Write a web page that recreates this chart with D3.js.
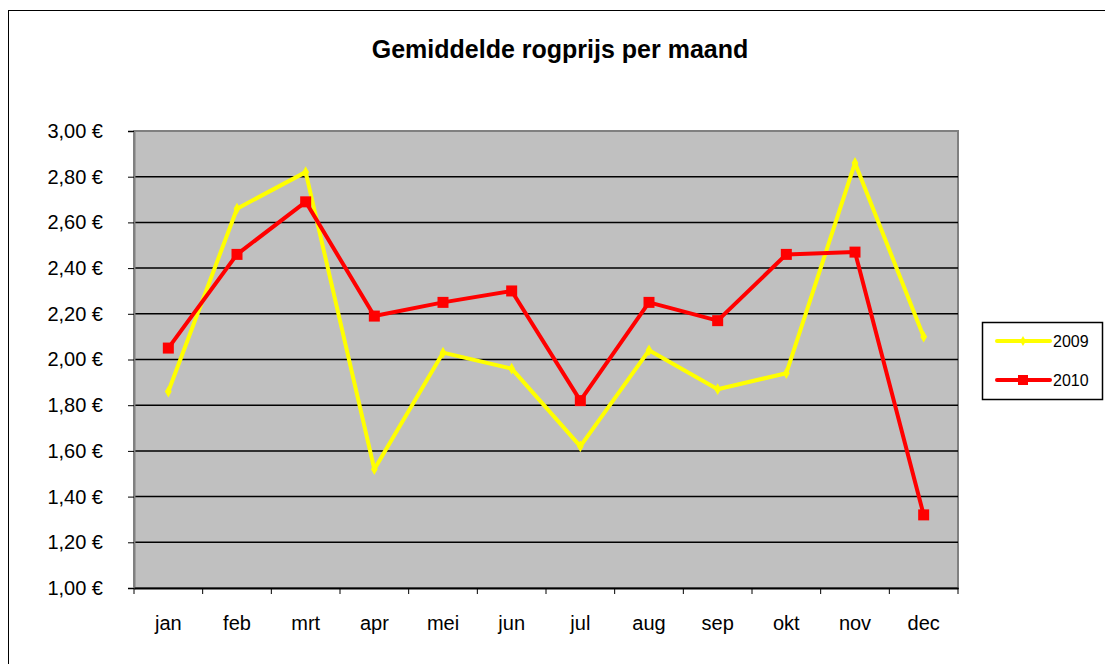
<!DOCTYPE html>
<html>
<head>
<meta charset="utf-8">
<script src="https://cdn.jsdelivr.net/npm/d3@7"></script>
<style>
  body { margin: 0; background: #fff; }
  text { font-family: "Liberation Sans", Arial, sans-serif; }
</style>
</head>
<body>
<script>
// data
var months = ["jan", "feb", "mrt", "apr", "mei", "jun", "jul", "aug", "sep", "okt", "nov", "dec"];
var prices2009 = [1.86, 2.66, 2.82, 1.52, 2.03, 1.96, 1.62, 2.04, 1.87, 1.94, 2.86, 2.10];
var prices2010 = [2.05, 2.46, 2.69, 2.19, 2.25, 2.30, 1.82, 2.25, 2.17, 2.46, 2.47, 1.32];
var yTicks = [1.0, 1.2, 1.4, 1.6, 1.8, 2.0, 2.2, 2.4, 2.6, 2.8, 3.0];

var W = 1105, H = 664;
var pLeft = 134, pRight = 958, pTop = 131, pBottom = 588;
var FONT = "'Liberation Sans', Arial, sans-serif";

var svg = d3.select("body").append("svg")
    .attr("width", W).attr("height", H);

// outer chart border (only top/left visible)
svg.append("rect")
    .attr("x", 8.5).attr("y", 10.5)
    .attr("width", 1200).attr("height", 700)
    .attr("fill", "none").attr("stroke", "#000");

svg.append("text")
    .attr("x", 560).attr("y", 58)
    .attr("text-anchor", "middle")
    .style("font-size", "25px").style("font-weight", "bold")
    .text("Gemiddelde rogprijs per maand");

var x = d3.scaleBand().domain(months).range([pLeft, pRight]);
var y = d3.scaleLinear().domain([1, 3]).range([pBottom, pTop]);

// plot area
svg.append("rect")
    .attr("x", pLeft).attr("y", pTop)
    .attr("width", pRight - pLeft).attr("height", pBottom - pTop)
    .attr("fill", "#c0c0c0").attr("stroke", "#808080").attr("stroke-width", 2);

// gridlines
svg.append("g").selectAll("line").data(yTicks.slice(1, -1)).join("line")
    .attr("x1", pLeft).attr("x2", pRight)
    .attr("y1", d => y(d)).attr("y2", d => y(d))
    .attr("stroke", "#000").attr("stroke-width", 1.5);

// y axis
var yAxis = svg.append("g")
    .attr("transform", "translate(" + pLeft + ",0)")
    .call(d3.axisLeft(y).tickValues(yTicks).tickSize(6).tickPadding(25)
        .tickFormat(d => d3.format(".2f")(d).replace(".", ",") + " €"));
yAxis.select(".domain").attr("stroke", "#808080").attr("stroke-width", 2);
yAxis.selectAll("text").style("font-size", "20px").attr("fill", "#000")
    .style("font-family", FONT);

// x axis
var xAxis = svg.append("g")
    .attr("transform", "translate(0," + pBottom + ")")
    .call(d3.axisBottom(x).tickSize(0).tickPadding(28));
xAxis.select(".domain").attr("stroke", "#000").attr("stroke-width", 2);
xAxis.selectAll("text").style("font-size", "20px").attr("fill", "#000")
    .style("font-family", FONT);
// category boundary ticks
svg.append("g").selectAll("line").data(d3.range(months.length + 1)).join("line")
    .attr("x1", i => pLeft + i * x.bandwidth())
    .attr("x2", i => pLeft + i * x.bandwidth())
    .attr("y1", pBottom).attr("y2", pBottom + 6)
    .attr("stroke", "#000");

var cx = d => x(d) + x.bandwidth() / 2;
var line = d3.line().x((d, i) => cx(months[i])).y(d => y(d));

svg.append("path").datum(prices2009)
    .attr("d", line).attr("fill", "none")
    .attr("stroke", "#ffff00").attr("stroke-width", 4).attr("stroke-linejoin", "round");
svg.append("g").selectAll("path").data(prices2009).join("path")
    .attr("d", d3.symbol(d3.symbolDiamond, 40))
    .attr("transform", (d, i) => "translate(" + cx(months[i]) + "," + y(d) + ")")
    .attr("fill", "#ffff00");

svg.append("path").datum(prices2010)
    .attr("d", line).attr("fill", "none")
    .attr("stroke", "#ff0000").attr("stroke-width", 4).attr("stroke-linejoin", "round");
svg.append("g").selectAll("rect").data(prices2010).join("rect")
    .attr("x", (d, i) => cx(months[i]) - 5.5).attr("y", d => y(d) - 5.5)
    .attr("width", 11).attr("height", 11)
    .attr("fill", "#ff0000");

// legend
var lg = svg.append("g");
lg.append("rect")
    .attr("x", 982.5).attr("y", 322.5).attr("width", 120).attr("height", 77)
    .attr("fill", "#fff").attr("stroke", "#000").attr("stroke-width", 1.5);
var series = [
  { name: "2009", color: "#ffff00", ly: 341 },
  { name: "2010", color: "#ff0000", ly: 380 }
];
series.forEach(function (s, k) {
  lg.append("line")
      .attr("x1", 997).attr("x2", 1050).attr("y1", s.ly).attr("y2", s.ly)
      .attr("stroke", s.color).attr("stroke-width", 4).attr("stroke-linecap", "round");
  if (k === 0) {
    lg.append("path").attr("d", d3.symbol(d3.symbolDiamond, 30))
        .attr("transform", "translate(1023," + s.ly + ")").attr("fill", s.color);
  } else {
    lg.append("rect").attr("x", 1018).attr("y", s.ly - 5).attr("width", 10).attr("height", 10)
        .attr("fill", s.color);
  }
  lg.append("text").attr("x", 1053).attr("y", s.ly + 6)
      .style("font-size", "16px").text(s.name);
});
</script>
</body>
</html>
